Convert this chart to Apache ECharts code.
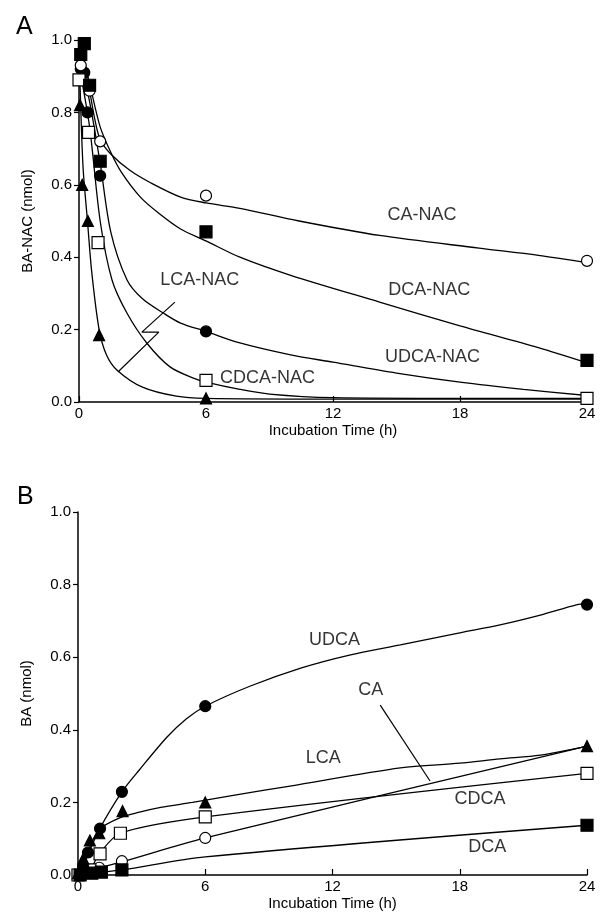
<!DOCTYPE html>
<html>
<head>
<meta charset="utf-8">
<script src="https://cdn.jsdelivr.net/npm/echarts@6/dist/echarts.min.js"></script>
<style>
  html, body { margin: 0; padding: 0; background: #fff; }
  #chart { width: 603px; height: 918px; }
</style>
</head>
<body>
<div id="chart"></div>
<script>
// ---- data (time in h, amount in nmol) ----
var xTicks = [0, 6, 12, 18, 24];

// panel A: fitted curves
var caNacCurve   = [[0,1.0],[0.25,0.93],[0.5,0.86],[0.75,0.78],[1,0.725],[1.5,0.685],[2.4,0.64],[3.4,0.605],[4.8,0.566],[6,0.55],[7.6,0.535],[10.4,0.5],[14.2,0.46],[18.9,0.425],[21.7,0.405],[24,0.385]];
var dcaNacCurve  = [[0,1.0],[0.5,0.88],[1,0.76],[1.5,0.69],[2,0.635],[2.9,0.566],[3.8,0.52],[4.8,0.478],[6,0.445],[7.6,0.40],[10,0.35],[14.2,0.276],[18,0.21],[21.7,0.15],[24,0.108]];
var udcaNacCurve = [[0,0.96],[0.5,0.83],[1,0.66],[1.5,0.47],[2.27,0.337],[3,0.285],[4,0.245],[4.8,0.218],[6,0.195],[7.6,0.163],[10,0.13],[12,0.11],[15,0.08],[18,0.055],[21,0.035],[24,0.018]];
var cdcaNacCurve = [[0,0.93],[0.5,0.76],[1,0.5],[1.56,0.337],[2.27,0.245],[3.2,0.163],[4.3,0.097],[5.4,0.066],[6,0.055],[7.6,0.035],[9,0.022],[12,0.012],[18,0.01],[24,0.01]];
var lcaNacCurve  = [[0,0.98],[0.1,0.78],[0.2,0.64],[0.4,0.5],[0.6,0.36],[0.95,0.2],[1.3,0.13],[1.8,0.088],[3,0.041],[4.6,0.016],[6,0.01],[12,0.008],[24,0.008]];

// panel A: measured points
var caNacPts   = [[0.083,0.93],[0.5,0.86],[1,0.72],[6,0.57],[24,0.39]];
var dcaNacPts  = [[0,1.01],[0.083,0.96],[0.25,0.99],[0.5,0.875],[1,0.665],[6,0.47],[24,0.115]];
var udcaNacPts = [[0.083,0.92],[0.25,0.91],[0.4,0.80],[1,0.625],[6,0.195]];
var cdcaNacPts = [[0,0.89],[0.45,0.745],[0.9,0.44],[6,0.06],[24,0.01]];
var lcaNacPts  = [[0.05,0.82],[0.15,0.60],[0.42,0.50],[0.95,0.185],[6,0.01]];

// panel B: curves
var udcaCurve = [[0,0],[0.25,0.025],[0.5,0.06],[1,0.125],[2.07,0.229],[2.9,0.29],[4.2,0.38],[5.1,0.43],[6,0.465],[8.1,0.52],[10.5,0.57],[12.8,0.606],[15.2,0.634],[18,0.667],[19.9,0.689],[21.8,0.716],[23.5,0.744],[24,0.748]];
var lcaCurve  = [[0,0],[0.5,0.07],[1,0.125],[2,0.158],[2.9,0.173],[3.9,0.186],[5.4,0.2],[7.6,0.222],[10,0.245],[15.2,0.295],[18,0.308],[19.9,0.32],[21.8,0.33],[24,0.355]];
var cdcaCurve = [[0,0],[0.56,0.014],[1,0.058],[2,0.115],[6,0.16],[24,0.28]];
var caCurve   = [[0,0],[1,0.02],[2.07,0.036],[6,0.102],[24,0.355]];
var dcaCurve  = [[0,0],[1.1,0.008],[2.07,0.014],[6,0.05],[24,0.137]];

// panel B: measured points
var udcaPts = [[0.1,0],[0.24,0.022],[0.47,0.062],[1.04,0.128],[2.07,0.229],[6,0.465],[24,0.745]];
var lcaPts  = [[0,0.005],[0.25,0.045],[0.56,0.095],[1,0.115],[2.1,0.176],[6,0.2],[24,0.355]];
var cdcaPts = [[0,0],[0.56,0.014],[1.04,0.058],[2,0.115],[6,0.16],[24,0.28]];
var caPts   = [[0,0],[1,0.02],[2.07,0.038],[6,0.102]];
var dcaPts  = [[0.1,0],[0.65,0.005],[1.1,0.008],[2.07,0.014],[24,0.137]];

// text labels [t, value, text]
var labelsA = [[16.2,0.517,'CA-NAC'],[16.55,0.309,'DCA-NAC'],[16.7,0.124,'UDCA-NAC'],[5.7,0.337,'LCA-NAC'],[8.9,0.066,'CDCA-NAC']];
var labelsB = [[12.1,0.647,'UDCA'],[13.8,0.51,'CA'],[11.56,0.322,'LCA'],[18.96,0.209,'CDCA'],[19.3,0.076,'DCA']];
var leaderA = [[4.53,0.276],[2.97,0.193],[3.77,0.193],[1.84,0.083]];
var leaderB = [[14.25,0.468],[16.6,0.259]];

var chart = echarts.init(document.getElementById('chart'));
var font = 'Liberation Sans, Arial, sans-serif';

function xAx(i) {
  return {
    gridIndex: i, type: 'value', min: 0, max: 24, interval: 6,
    name: 'Incubation Time (h)', nameLocation: 'middle', nameGap: 21,
    nameTextStyle: { color: '#000', fontSize: 15, fontFamily: font },
    axisLine: { lineStyle: { color: '#000', width: 1.5 } },
    axisTick: { inside: true, length: 6, lineStyle: { color: '#000', width: 1.2 } },
    axisLabel: { color: '#000', fontSize: 15, fontFamily: font, margin: 4 },
    splitLine: { show: false }
  };
}
function yAx(i, nm) {
  return {
    gridIndex: i, type: 'value', min: 0, max: 1, interval: 0.2,
    name: nm, nameLocation: 'middle', nameGap: 44,
    nameTextStyle: { color: '#000', fontSize: 15, fontFamily: font },
    axisLine: { lineStyle: { color: '#000', width: 1.5 } },
    axisTick: { length: 5, lineStyle: { color: '#000', width: 1.2 } },
    axisLabel: { color: '#000', fontSize: 15, fontFamily: font, margin: 7,
      formatter: function (v) { return v.toFixed(1); } },
    splitLine: { show: false }
  };
}

function curve(i, data) {
  return { type: 'line', xAxisIndex: i, yAxisIndex: i, data: data, smooth: 0.3,
    showSymbol: false, symbol: 'none', lineStyle: { color: '#000', width: 1.3 }, z: 2, silent: true };
}
function pts(i, data, shape, filled, size) {
  return { type: 'scatter', xAxisIndex: i, yAxisIndex: i, data: data, symbol: shape,
    symbolSize: size || 11, z: 4, silent: true,
    itemStyle: { color: filled ? '#000' : '#fff', borderColor: '#000', borderWidth: 1.2, opacity: 1 } };
}
function texts(i, arr) {
  return { type: 'scatter', xAxisIndex: i, yAxisIndex: i, symbolSize: 0, z: 5, silent: true,
    data: arr.map(function (d) { return { value: [d[0], d[1]], label: { formatter: d[2] } }; }),
    label: { show: true, position: 'inside', color: '#000', fontSize: 18, fontFamily: font } };
}
function leader(i, data) {
  return { type: 'line', xAxisIndex: i, yAxisIndex: i, data: data, symbol: 'none', silent: true,
    lineStyle: { color: '#000', width: 1.2 }, z: 3 };
}

chart.setOption({
  animation: false,
  backgroundColor: '#fff',
  title: [
    { text: 'A', left: 11, top: 10, textStyle: { fontSize: 25, fontWeight: 'normal', color: '#000', fontFamily: font } },
    { text: 'B', left: 12, top: 480, textStyle: { fontSize: 25, fontWeight: 'normal', color: '#000', fontFamily: font } }
  ],
  grid: [
    { left: 79, top: 40, width: 508, height: 362 },
    { left: 78, top: 512, width: 509, height: 363 }
  ],
  xAxis: [xAx(0), xAx(1)],
  yAxis: [yAx(0, 'BA-NAC (nmol)'), yAx(1, 'BA (nmol)')],
  series: [
    curve(0, caNacCurve), curve(0, dcaNacCurve), curve(0, udcaNacCurve), curve(0, cdcaNacCurve), curve(0, lcaNacCurve),
    leader(0, leaderA), texts(0, labelsA),
    pts(0, udcaNacPts, 'circle', true), pts(0, caNacPts, 'circle', false),
    pts(0, lcaNacPts, 'triangle', true), pts(0, cdcaNacPts, 'rect', false, 12),
    pts(0, dcaNacPts, 'rect', true, 12),
    curve(1, udcaCurve), curve(1, lcaCurve), curve(1, cdcaCurve), curve(1, caCurve), curve(1, dcaCurve),
    leader(1, leaderB), texts(1, labelsB),
    pts(1, caPts, 'circle', false), pts(1, cdcaPts, 'rect', false, 12), pts(1, dcaPts, 'rect', true, 12),
    pts(1, udcaPts, 'circle', true), pts(1, lcaPts, 'triangle', true)
  ]
});
</script>
</body>
</html>
